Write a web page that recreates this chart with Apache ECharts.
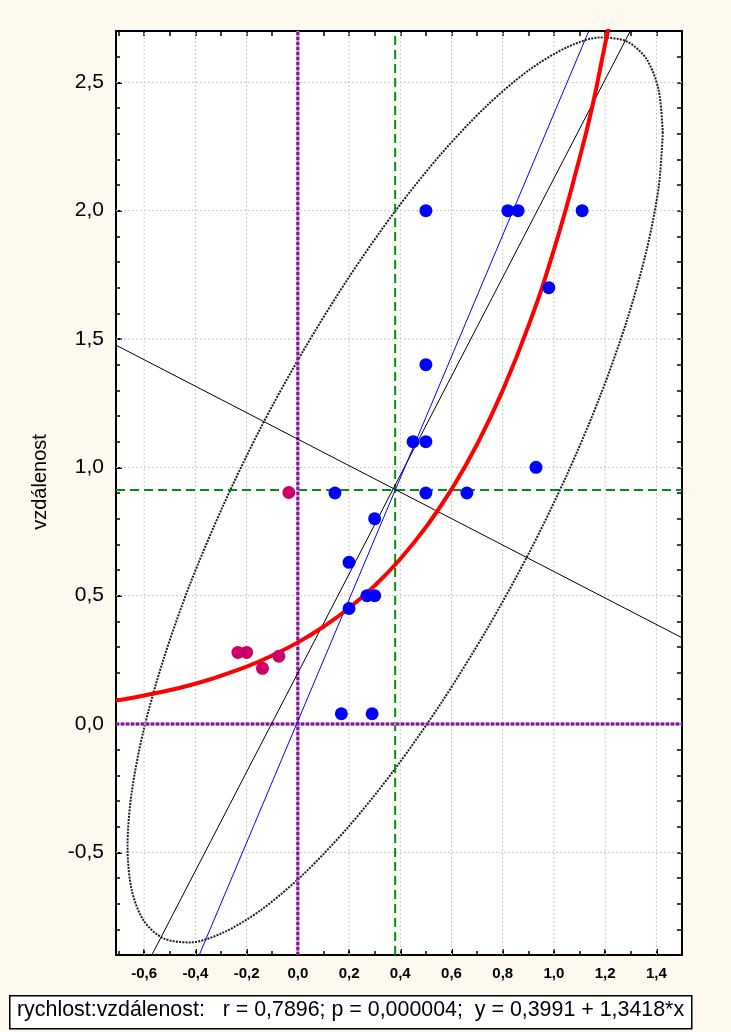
<!DOCTYPE html>
<html>
<head>
<meta charset="utf-8">
<script src="https://cdn.jsdelivr.net/npm/echarts@6/dist/echarts.min.js"></script>
<style>
html,body{margin:0;padding:0;background:#FDF9EE;}
#chart{width:731px;height:1032px;}
</style>
</head>
<body>
<div id="chart"></div>
<script>
// ---- axis ranges and ticks ----
const xMin = -0.71, xMax = 1.5;
const yMin = -0.9, yMax = 2.7;
const xLabelTicks = [-0.6, -0.4, -0.2, 0.0, 0.2, 0.4, 0.6, 0.8, 1.0, 1.2, 1.4];
const xMinorTicks = [-0.7, -0.5, -0.3, -0.1, 0.1, 0.3, 0.5, 0.7, 0.9, 1.1, 1.3];
const yLabelTicks = [-0.5, 0.0, 0.5, 1.0, 1.5, 2.0, 2.5];
const yMinorTicks = [-0.8, -0.7, -0.6, -0.4, -0.3, -0.2, -0.1, 0.1, 0.2, 0.3, 0.4, 0.6, 0.7, 0.8, 0.9,
                     1.1, 1.2, 1.3, 1.4, 1.6, 1.7, 1.8, 1.9, 2.1, 2.2, 2.3, 2.4, 2.6];
const xAllTicks = [-0.7, -0.6, -0.5, -0.4, -0.3, -0.2, -0.1, 0.0, 0.1, 0.2, 0.3, 0.4, 0.5, 0.6, 0.7, 0.8, 0.9, 1.0, 1.1, 1.2, 1.3, 1.4];
const yAllTicks = [-0.8, -0.7, -0.6, -0.5, -0.4, -0.3, -0.2, -0.1, 0.0, 0.1, 0.2, 0.3, 0.4, 0.5, 0.6, 0.7, 0.8, 0.9,
                   1.0, 1.1, 1.2, 1.3, 1.4, 1.5, 1.6, 1.7, 1.8, 1.9, 2.0, 2.1, 2.2, 2.3, 2.4, 2.5, 2.6];
const yAxisName = 'vzdálenost';
const footerText = 'rychlost:vzdálenost:   r = 0,7896; p = 0,000004;  y = 0,3991 + 1,3418*x';

// ---- data points ----
const blueX = [0.50, 0.82, 0.86, 1.11, 0.98, 0.50, 0.45, 0.50, 0.93, 0.145, 0.50, 0.66, 0.30, 0.20, 0.27, 0.30, 0.20, 0.17, 0.29];
const blueY = [2.00, 2.00, 2.00, 2.00, 1.70, 1.40, 1.10, 1.10, 1.00, 0.90, 0.90, 0.90, 0.80, 0.63, 0.50, 0.50, 0.45, 0.04, 0.04];
const pinkX = [-0.234, -0.200, -0.138, -0.074, -0.035];
const pinkY = [0.279, 0.279, 0.217, 0.264, 0.902];

// ---- fitted curves / lines ----
const redX = [-0.71, -0.6, -0.4, -0.2, -0.1, 0.0, 0.1, 0.2, 0.3, 0.4, 0.5, 0.6, 0.7, 0.8, 0.9, 1.0, 1.1, 1.15, 1.2, 1.22];
const redY = [0.091, 0.111, 0.157, 0.224, 0.267, 0.318, 0.379, 0.452, 0.539, 0.643, 0.767, 0.914, 1.090, 1.300, 1.550, 1.848, 2.204, 2.407, 2.650, 2.740];
const majorAxisX = [-0.570, 1.298];
const majorAxisY = [-0.9, 2.7];
const minorAxisX = [-0.71, 1.5];
const minorAxisY = [1.476, 0.336];
const blueLineX = [-0.385, 1.136];
const blueLineY = [-0.9, 2.7];
const meanX = 0.38, meanY = 0.912;
const ellipseX = [1.425, 1.409, 1.362, 1.285, 1.181, 1.052, 0.903, 0.737, 0.561, 0.380, 0.199, 0.023,
                  -0.143, -0.292, -0.421, -0.525, -0.602, -0.649, -0.665, -0.649, -0.602, -0.525, -0.421, -0.292,
                  -0.143, 0.023, 0.199, 0.380, 0.561, 0.737, 0.903, 1.052, 1.181, 1.285, 1.362, 1.409, 1.425];
const ellipseY = [2.302, 2.469, 2.590, 2.659, 2.675, 2.637, 2.548, 2.408, 2.223, 1.998, 1.740, 1.457,
                  1.158, 0.850, 0.545, 0.251, -0.023, -0.268, -0.478, -0.645, -0.766, -0.835, -0.851, -0.813,
                  -0.724, -0.584, -0.399, -0.174, 0.084, 0.367, 0.667, 0.974, 1.279, 1.573, 1.847, 2.092, 2.302];

const zip = (a, b) => a.map((v, i) => [v, b[i]]);
const fmt = v => v.toFixed(1).replace('.', ',');

const chart = echarts.init(document.getElementById('chart'), null, {renderer: 'canvas'});

function lineSeries(data, style, z) {
  return {type: 'line', data: data, symbol: 'none', silent: true, z: z, lineStyle: style, clip: true};
}

const series = [];
// grid lines
xLabelTicks.forEach(v => series.push(lineSeries([[v, yMin], [v, yMax]], {color: '#C8C8C8', width: 1, type: [2, 2]}, 1)));
yLabelTicks.forEach(v => series.push(lineSeries([[xMin, v], [xMax, v]], {color: '#C8C8C8', width: 1, type: [2, 2]}, 1)));
// ellipse
series.push(Object.assign(lineSeries(zip(ellipseX, ellipseY), {color: '#1e1e1e', width: 2, type: [2, 1.2]}, 2), {smooth: 0.3}));
// green mean lines
series.push(lineSeries([[meanX, yMin], [meanX, yMax]], {color: '#0C8A0C', width: 2, type: [9, 5]}, 3));
series.push(lineSeries([[xMin, meanY], [xMax, meanY]], {color: '#0C8A0C', width: 2, type: [9, 5]}, 3));
// purple zero lines
series.push(lineSeries([[0, yMin], [0, yMax]], {color: '#C690CF', width: 3}, 4));
series.push(lineSeries([[xMin, 0], [xMax, 0]], {color: '#C690CF', width: 3}, 4));
series.push(lineSeries([[0, yMin], [0, yMax]], {color: '#82168F', width: 3, type: [3, 2]}, 4));
series.push(lineSeries([[xMin, 0], [xMax, 0]], {color: '#82168F', width: 3, type: [3, 2]}, 4));
// axes of ellipse and blue regression line
series.push(lineSeries(zip(majorAxisX, majorAxisY), {color: '#000', width: 1}, 5));
series.push(lineSeries(zip(minorAxisX, minorAxisY), {color: '#000', width: 1}, 5));
series.push(lineSeries(zip(blueLineX, blueLineY), {color: '#0000FF', width: 1}, 5));
// red curve
series.push(Object.assign(lineSeries(zip(redX, redY), {color: '#FF0000', width: 4}, 6), {smooth: true}));
// points
series.push({type: 'scatter', data: zip(blueX, blueY), symbol: 'circle', symbolSize: 13, itemStyle: {color: '#0000FF', opacity: 1}, z: 7, silent: true});
series.push({type: 'scatter', data: zip(pinkX, pinkY), symbol: 'circle', symbolSize: 13, itemStyle: {color: '#CC0066', opacity: 1}, z: 7, silent: true});

const baseAxis = {
  type: 'value', scale: true,
  splitLine: {show: false},
  axisLine: {onZero: false, show: false, lineStyle: {color: '#000', width: 2}}
};

const option = {
  animation: false,
  backgroundColor: '#FDF9EE',
  grid: {left: 116, top: 31, right: 49, bottom: 77, show: true, backgroundColor: '#FFFFFF', borderWidth: 0},
  xAxis: [
    Object.assign({}, baseAxis, {
      position: 'bottom', min: xMin, max: xMax,
      axisLine: {show: true, onZero: false, lineStyle: {color: '#000', width: 2}},
      axisTick: {show: true, inside: true, length: 6, lineStyle: {color: '#000', width: 2}, customValues: xLabelTicks},
      axisLabel: {show: true, customValues: xLabelTicks, formatter: fmt, color: '#000', fontFamily: 'Liberation Sans', fontWeight: 'bold', fontSize: 15, margin: 11}
    }),
    Object.assign({}, baseAxis, {
      position: 'bottom', min: xMin, max: xMax,
      axisTick: {show: true, inside: true, length: 4, lineStyle: {color: '#000', width: 1.5}, customValues: xMinorTicks},
      axisLabel: {show: false}
    }),
    Object.assign({}, baseAxis, {
      position: 'top', min: xMin, max: xMax,
      axisLine: {show: true, onZero: false, lineStyle: {color: '#000', width: 2}},
      axisTick: {show: true, inside: true, length: 5, lineStyle: {color: '#000', width: 1.5}, customValues: xAllTicks},
      axisLabel: {show: false}
    })
  ],
  yAxis: [
    Object.assign({}, baseAxis, {
      position: 'left', min: yMin, max: yMax,
      axisLine: {show: true, onZero: false, lineStyle: {color: '#000', width: 2}},
      axisTick: {show: true, inside: true, length: 6, lineStyle: {color: '#000', width: 2}, customValues: yLabelTicks},
      axisLabel: {show: true, customValues: yLabelTicks, formatter: fmt, color: '#000', fontFamily: 'Liberation Sans', fontSize: 21, margin: 12}
    }),
    Object.assign({}, baseAxis, {
      position: 'left', min: yMin, max: yMax,
      axisTick: {show: true, inside: true, length: 4, lineStyle: {color: '#000', width: 1.5}, customValues: yMinorTicks},
      axisLabel: {show: false}
    }),
    Object.assign({}, baseAxis, {
      position: 'right', min: yMin, max: yMax,
      axisLine: {show: true, onZero: false, lineStyle: {color: '#000', width: 2}},
      axisTick: {show: true, inside: true, length: 5, lineStyle: {color: '#000', width: 1.5}, customValues: yAllTicks},
      axisLabel: {show: false}
    })
  ],
  series: series,
  graphic: [
    {type: 'text', x: 40, y: 482, rotation: Math.PI / 2,
     style: {text: yAxisName, fill: '#000', font: '20px "Liberation Sans"', align: 'center', verticalAlign: 'middle'}, z: 11},
    {type: 'rect', left: 9, top: 995, shape: {width: 682, height: 33}, style: {fill: '#FFFFFF', stroke: '#000', lineWidth: 1.5}, z: 10},
    {type: 'text', left: 17, top: 1000, style: {text: footerText, fill: '#000', font: '21.4px "Liberation Sans"'}, z: 11}
  ]
};
chart.setOption(option);
</script>
</body>
</html>
